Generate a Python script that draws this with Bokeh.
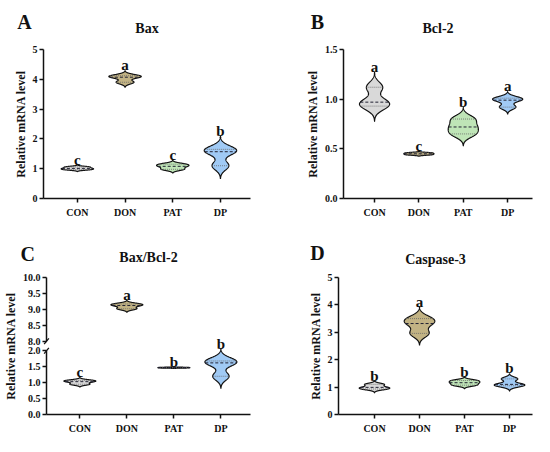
import numpy as np
from bokeh.plotting import figure
from bokeh.layouts import column, row
from bokeh.models import Range1d, FixedTicker, NumeralTickFormatter
from bokeh.core.properties import value
from bokeh.embed import file_html
from bokeh.resources import INLINE

# ---------------- data ----------------
groups = ["CON", "DON", "PAT", "DP"]
colors = ["#d9d9d9", "#c2b384", "#bfe5b7", "#a0caf5"]

bax_values = [[0.97, 1.01, 1.06], [3.90, 4.07, 4.12], [0.98, 1.08, 1.15], [1.10, 1.57, 1.65]]
bax_letters = ["c", "a", "c", "b"]
bax_ticks = [0, 1, 2, 3, 4, 5]

bcl2_values = [[0.93, 0.97, 1.12], [0.44, 0.45, 0.46], [0.65, 0.72, 0.80], [0.92, 0.99, 1.01]]
bcl2_letters = ["a", "c", "b", "a"]
bcl2_ticks = [0.0, 0.5, 1.0, 1.5]

ratio_values = [[0.95, 1.03, 1.07], [9.02, 9.12, 9.17], [1.46, 1.47, 1.48], [1.20, 1.62, 1.68]]
ratio_letters = ["c", "a", "b", "b"]
ratio_low_ticks = [0.0, 0.5, 1.0, 1.5, 2.0]
ratio_high_ticks = [8.0, 8.5, 9.0, 9.5, 10.0]

casp3_values = [[0.93, 0.99, 1.10], [2.96, 3.32, 3.50], [1.07, 1.16, 1.24], [1.05, 1.10, 1.30]]
casp3_letters = ["b", "a", "b", "b"]
casp3_ticks = [0, 1, 2, 3, 4, 5]

SERIF = "Liberation Serif"
HALF = 0.34
INK = "#111111"


def violin_shape(vals, npts=200):
    v = np.asarray(vals, float)
    n = len(v)
    q1, q3 = np.percentile(v, [25, 75])
    h = 0.9 * min(v.std(ddof=1), (q3 - q1) / 1.34) * n ** -0.2
    ys = np.linspace(v.min() - 3 * h, v.max() + 3 * h, npts)
    d = np.exp(-0.5 * ((ys[:, None] - v[None, :]) / h) ** 2).sum(axis=1)
    d = d - d.min()
    w = d / d.max() * HALF
    return ys, w


def make_panel(values, letters, width, height, borders, xr, yr,
               yticks=None, fmt=None, range_names=None, extra=None):
    bl, br, bt, bb = borders
    p = figure(width=width, height=height, output_backend="svg", toolbar_location=None,
               x_range=Range1d(*xr), y_range=Range1d(*yr),
               min_border_left=bl, min_border_right=br, min_border_top=bt, min_border_bottom=bb)
    if extra:
        p.extra_y_ranges = extra
    p.outline_line_color = None
    p.xgrid.visible = False
    p.ygrid.visible = False
    if range_names is None:
        range_names = ["default"] * len(values)
    for i, vals in enumerate(values):
        xc = i + 1
        rn = range_names[i]
        ys, w = violin_shape(vals)
        px = np.concatenate([xc + w, (xc - w)[::-1]])
        py = np.concatenate([ys, ys[::-1]])
        p.patch(px, py, fill_color=colors[i], line_color=INK, line_width=1.2,
                y_range_name=rn)
        med = float(np.median(vals))
        q1, q3 = np.percentile(vals, [25, 75], method="weibull")
        for yy, dash, col, lw in [(q1, "1 1", "#666666", 0.8), (q3, "1 1", "#666666", 0.8),
                                  (med, "3 2", "#222233", 1.0)]:
            hw = float(np.interp(yy, ys, w))
            p.segment(x0=[xc - hw], y0=[yy], x1=[xc + hw], y1=[yy], line_color=col,
                      line_dash=dash, line_width=lw, y_range_name=rn)
        p.text(x=[xc], y=[ys.max()], text=[letters[i]], text_font=value(SERIF),
               text_font_style="bold", text_font_size="15px", text_align="center",
               text_baseline="alphabetic", y_offset=-5, text_color=INK, y_range_name=rn)

    xa = p.xaxis[0]
    xa.ticker = FixedTicker(ticks=[1, 2, 3, 4])
    xa.major_label_overrides = {i + 1: g for i, g in enumerate(groups)}
    ya = p.yaxis[0]
    if yticks is not None:
        ya.ticker = FixedTicker(ticks=yticks)
    if fmt is not None:
        ya.formatter = NumeralTickFormatter(format=fmt)
    for ax in (xa, ya):
        ax.axis_line_width = 1.5
        ax.axis_line_color = INK
        ax.major_tick_line_width = 1.5
        ax.major_tick_line_color = INK
        ax.major_tick_out = 4
        ax.major_tick_in = 0
        ax.minor_tick_line_color = None
        ax.major_label_text_font = SERIF
        ax.major_label_text_font_style = "bold"
        ax.major_label_text_font_size = "10px"
        ax.major_label_text_color = INK
        ax.major_label_standoff = 2
    xa.major_label_standoff = 4
    ya.axis_label = "Relative mRNA level"
    ya.axis_label_text_font = SERIF
    ya.axis_label_text_font_style = "bold"
    ya.axis_label_text_font_size = "12px"
    ya.axis_label_text_color = INK
    ya.axis_label_standoff = 2
    fw = width - bl - br
    fh = height - bt - bb
    return p, fw, fh


def add_titles(p, fw, fh, title, title_dy, letter, lx, ly):
    xr, yr = p.x_range, p.y_range
    xpp = (xr.end - xr.start) / fw
    ypp = (yr.end - yr.start) / fh
    p.text(x=[(xr.start + xr.end) / 2], y=[yr.end + title_dy * ypp], text=[title],
           text_align="center", text_baseline="middle", text_font=value(SERIF),
           text_font_style="bold", text_font_size="14px", text_color=INK, level="overlay")
    p.text(x=[xr.start + lx * xpp], y=[yr.end + ly * ypp], text=[letter],
           text_align="center", text_baseline="alphabetic", text_font=value(SERIF),
           text_font_style="bold", text_font_size="20px", text_color=INK, level="overlay")


W1, W2, H1, H2 = 270, 264, 224, 212

# Panel A
pA, fw, fh = make_panel(bax_values, bax_letters, W1, H1, (43, 20, 49, 20),
                        (0.29, 4.63), (0, 5), yticks=bax_ticks)
add_titles(pA, fw, fh, "Bax", 22, "A", -19, 29)

# Panel B
pB, fw, fh = make_panel(bcl2_values, bcl2_letters, W2, H1, (73, 2, 48, 26),
                        (0.30, 4.56), (0, 1.5), yticks=bcl2_ticks, fmt="0.0")
add_titles(pB, fw, fh, "Bcl-2", 21, "B", -26, 28)

# Panel C (broken y axis)
BREAK_LOW = ratio_low_ticks[-1]
BREAK_HIGH = ratio_high_ticks[0]
GAP = 0.3
C_TOP = ratio_high_ticks[-1]
offset = BREAK_HIGH - (BREAK_LOW + GAP)
c_end = BREAK_LOW + GAP + (C_TOP - BREAK_HIGH)
range_names = ["upper" if min(v) > BREAK_HIGH else "default" for v in ratio_values]
pC, fw, fh = make_panel(ratio_values, ratio_letters, W1, H2, (43, 20, 53, 19),
                        (0.29, 4.63), (0, c_end), range_names=range_names,
                        extra={"upper": Range1d(offset, C_TOP)})
yc = pC.yaxis[0]
tick_pos = list(ratio_low_ticks) + [round(t - offset, 6) for t in ratio_high_ticks]
tick_lab = ["%.1f" % t for t in ratio_low_ticks] + ["%.1f" % t for t in ratio_high_ticks]
yc.ticker = FixedTicker(ticks=tick_pos)
yc.major_label_overrides = {pos: lab for pos, lab in zip(tick_pos, tick_lab)}
yc.axis_line_color = None
xs = pC.x_range.start
pC.segment(x0=[xs], y0=[ratio_low_ticks[0]], x1=[xs], y1=[BREAK_LOW], line_color=INK,
           line_width=1.5, level="overlay")
pC.segment(x0=[xs], y0=[BREAK_HIGH], x1=[xs], y1=[C_TOP], line_color=INK,
           line_width=1.5, level="overlay", y_range_name="upper")
dx, dy = 0.05, 0.09
pC.segment(x0=[xs - dx], y0=[BREAK_LOW - dy], x1=[xs + dx], y1=[BREAK_LOW + dy],
           line_color=INK, line_width=1.3, level="overlay")
pC.segment(x0=[xs - dx], y0=[BREAK_HIGH - dy], x1=[xs + dx], y1=[BREAK_HIGH + dy],
           line_color=INK, line_width=1.3, level="overlay", y_range_name="upper")
add_titles(pC, fw, fh, "Bax/Bcl-2", 20, "C", -19, 24)

# Panel D
pD, fw, fh = make_panel(casp3_values, casp3_letters, W2, H2, (68, 2, 52, 19),
                        (0.20, 4.51), (0, 5), yticks=casp3_ticks)
add_titles(pD, fw, fh, "Caspase-3", 19, "D", -21, 25)

layout = column(row(pA, pB), row(pC, pD))
open("out.html", "w").write(file_html(layout, INLINE))
